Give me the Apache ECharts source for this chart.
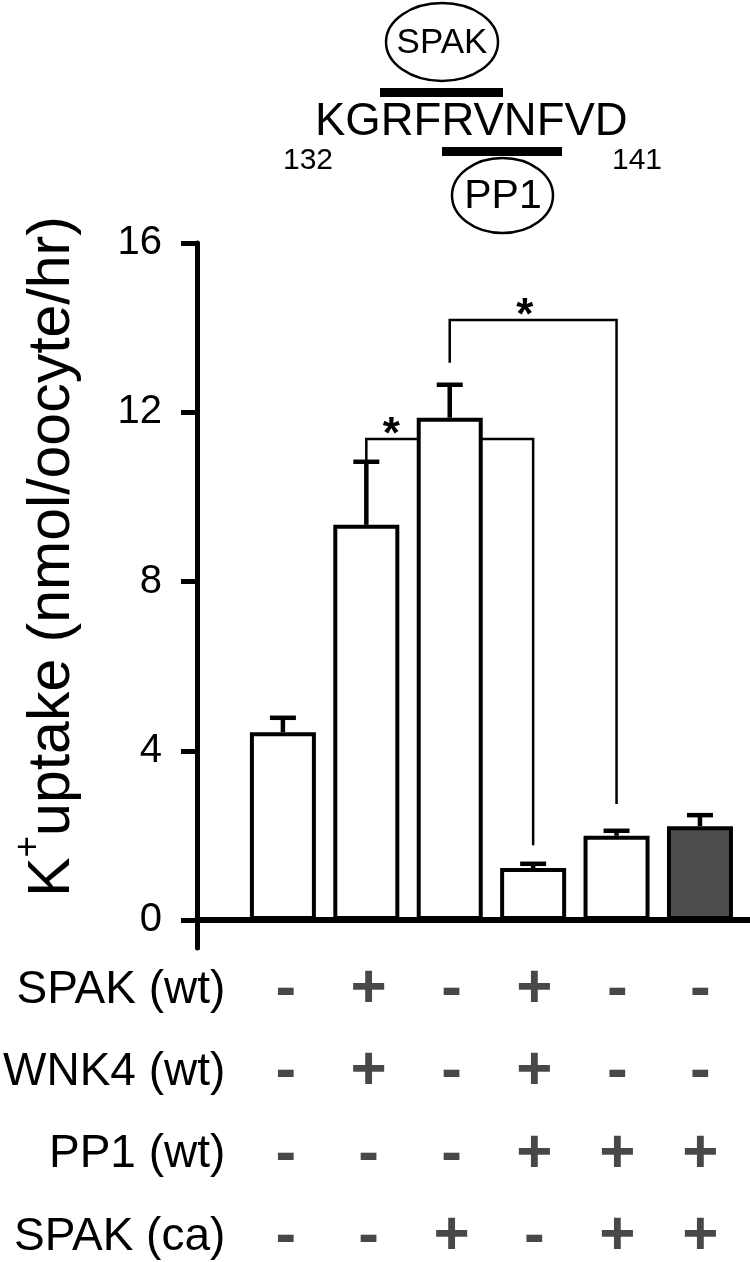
<!DOCTYPE html>
<html><head><meta charset="utf-8">
<script src="https://cdn.jsdelivr.net/npm/echarts@6/dist/echarts.min.js"></script>
<style>html,body{margin:0;padding:0;background:#fff}#c{width:750px;height:1262px}</style>
</head><body><div id="c"></div>
<script>
// ---- data ----
const conditions = [1, 2, 3, 4, 5, 6];
const means = [4.44, 9.34, 11.87, 1.23, 1.99, 2.22];
const sems = [0.34, 1.49, 0.78, 0.10, 0.12, 0.26];
const barFills = ['#ffffff', '#ffffff', '#ffffff', '#ffffff', '#ffffff', '#4d4d4d'];
const yTicks = [0, 4, 8, 12, 16];
const rowNames = ['SPAK (wt)', 'WNK4 (wt)', 'PP1 (wt)', 'SPAK (ca)'];
const rowSigns = [
  ['-', '+', '-', '+', '-', '-'],
  ['-', '+', '-', '+', '-', '-'],
  ['-', '-', '-', '+', '+', '+'],
  ['-', '-', '+', '-', '+', '+']
];
// significance brackets
const bracketFrom = [2, 3];
const bracketTo = [4, 5];
const bracketTop = [11.37, 14.18];
const bracketLeftEnd = [10.64, 13.17];
const bracketRightEnd = [1.77, 2.74];
const bracketStar = [2.3, 3.9];

const FONT = '"Liberation Sans", Arial, Helvetica, sans-serif';
const xMin = -0.03, xMax = 6.6;

const chart = echarts.init(document.getElementById('c'), null, {renderer: 'canvas'});

const option = {
  animation: false,
  backgroundColor: '#ffffff',
  textStyle: {fontFamily: FONT, color: '#000'},
  grid: [
    {left: 197, right: 0, top: 243, bottom: 314},
    {left: 197, right: 0, top: 990, bottom: 25}
  ],
  xAxis: [
    {type: 'value', gridIndex: 0, min: xMin, max: xMax,
     axisLine: {show: true, onZero: true, lineStyle: {color: '#000', width: 6}},
     axisTick: {show: false}, axisLabel: {show: false}, splitLine: {show: false}},
    {type: 'value', gridIndex: 1, min: xMin, max: xMax, show: false}
  ],
  yAxis: [
    {type: 'value', gridIndex: 0, min: -0.66, max: 16,
     axisLine: {show: true, onZero: false, lineStyle: {color: '#000', width: 5}},
     axisTick: {show: true, length: 16, customValues: yTicks, lineStyle: {color: '#000', width: 5}},
     axisLabel: {customValues: yTicks, fontSize: 40, margin: 35, color: '#000', fontFamily: FONT},
     splitLine: {show: false},
     name: '{k|K}{s|+}{k|uptake (nmol/oocyte/hr)}',
     nameLocation: 'middle', nameRotate: 90, nameGap: 101,
     nameTextStyle: {
       color: '#000', fontFamily: FONT, padding: [0, 0, 0, 78],
       rich: {
         k: {fontSize: 59, lineHeight: 86, fontFamily: FONT, color: '#000'},
         s: {fontSize: 37, lineHeight: 37, verticalAlign: 'top', fontFamily: FONT, color: '#000'}
       }
     }},
    {type: 'category', gridIndex: 1, data: rowNames, inverse: true, boundaryGap: false,
     axisLine: {show: false}, axisTick: {show: false}, splitLine: {show: false},
     axisLabel: {fontSize: 46, margin: -25, color: '#000', fontFamily: FONT}}
  ],
  series: [
    {
      type: 'custom', xAxisIndex: 0, yAxisIndex: 0, z: 1,
      data: bracketFrom.map((f, i) => [f, bracketTo[i], bracketTop[i], bracketLeftEnd[i], bracketRightEnd[i], bracketStar[i]]),
      renderItem: function (params, api) {
        const f = api.value(0), t = api.value(1), top = api.value(2), le = api.value(3), re = api.value(4), sx = api.value(5);
        const pL = api.coord([f, le]), pLT = api.coord([f, top]), pRT = api.coord([t, top]), pR = api.coord([t, re]);
        const ps = api.coord([sx, top]);
        return {type: 'group', children: [
          {type: 'polyline', shape: {points: [pL, pLT, pRT, pR]}, style: {stroke: '#000', lineWidth: 2.5, fill: null}},
          {type: 'text', x: ps[0], y: ps[1] - 3, style: {text: '*', fontSize: 44, fontWeight: 'bold', fill: '#000', align: 'center', verticalAlign: 'middle', fontFamily: FONT}}
        ]};
      }
    },
    {
      type: 'bar', xAxisIndex: 0, yAxisIndex: 0, z: 2, barWidth: 66,
      data: means.map((v, i) => ({value: [conditions[i], v], itemStyle: {color: barFills[i]}})),
      itemStyle: {borderColor: '#000', borderWidth: 4}
    },
    {
      type: 'custom', xAxisIndex: 0, yAxisIndex: 0, z: 3,
      data: means.map((v, i) => [conditions[i], v, sems[i]]),
      renderItem: function (params, api) {
        const x = api.value(0), m = api.value(1), e = api.value(2);
        const b = api.coord([x, m]), t = api.coord([x, m + e]);
        return {type: 'group', children: [
          {type: 'line', shape: {x1: b[0], y1: b[1], x2: t[0], y2: t[1]}, style: {stroke: '#000', lineWidth: 4.5}},
          {type: 'line', shape: {x1: t[0] - 13, y1: t[1], x2: t[0] + 13, y2: t[1]}, style: {stroke: '#000', lineWidth: 4.5}}
        ]};
      }
    },
    {
      type: 'scatter', xAxisIndex: 1, yAxisIndex: 1, symbolSize: 1,
      itemStyle: {color: 'rgba(0,0,0,0)'},
      data: rowSigns.flatMap((row, r) => row.map((s, c) => ({value: [conditions[c], r], sign: s}))),
      label: {show: true, position: 'inside', formatter: p => p.data.sign,
              fontSize: 62, fontWeight: 'bold', color: '#1a1a1a', fontFamily: FONT}
    }
  ],
  graphic: [
    {type: 'ellipse', shape: {cx: 442, cy: 42, rx: 56, ry: 39}, style: {fill: null, stroke: '#000', lineWidth: 2.5}},
    {type: 'text', x: 442, y: 43, style: {text: 'SPAK', fontSize: 35, fill: '#000', align: 'center', verticalAlign: 'middle', fontFamily: FONT}},
    {type: 'rect', shape: {x: 380, y: 88, width: 123, height: 9}, style: {fill: '#000'}},
    {type: 'text', x: 315, y: 122, style: {text: 'KGRFRVNFVD', fontSize: 45.5, fill: '#000', align: 'left', verticalAlign: 'middle', fontFamily: FONT}},
    {type: 'rect', shape: {x: 442, y: 147, width: 120, height: 9}, style: {fill: '#000'}},
    {type: 'text', x: 308, y: 161, style: {text: '132', fontSize: 30, fill: '#000', align: 'center', verticalAlign: 'middle', fontFamily: FONT}},
    {type: 'text', x: 637, y: 161, style: {text: '141', fontSize: 30, fill: '#000', align: 'center', verticalAlign: 'middle', fontFamily: FONT}},
    {type: 'ellipse', shape: {cx: 502.5, cy: 195.5, rx: 50.5, ry: 37.5}, style: {fill: null, stroke: '#000', lineWidth: 2.5}},
    {type: 'text', x: 503, y: 197, style: {text: 'PP1', fontSize: 41, fill: '#000', align: 'center', verticalAlign: 'middle', fontFamily: FONT}}
  ]
};
chart.setOption(option);
</script>
</body></html>
